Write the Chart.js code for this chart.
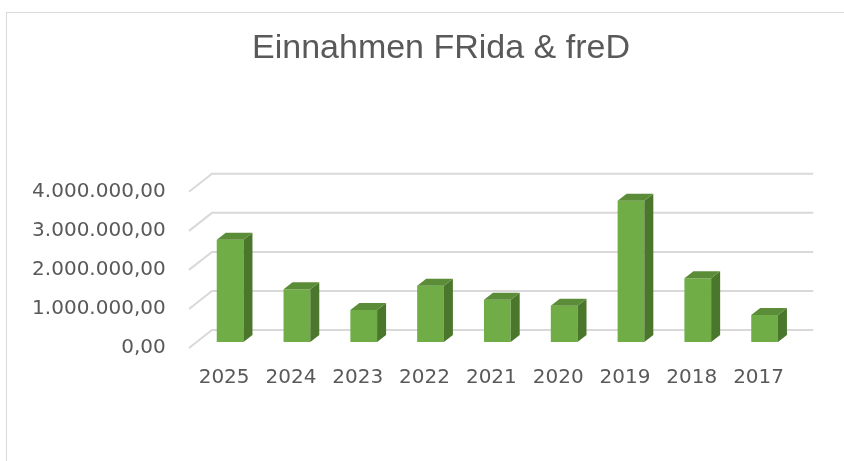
<!DOCTYPE html>
<html>
<head>
<meta charset="utf-8">
<script src="https://cdn.jsdelivr.net/npm/chart.js@4"></script>
<style>
  html, body { margin: 0; padding: 0; background: #ffffff; overflow: hidden; }
  #frame {
    position: absolute; left: 6px; top: 12px; width: 900px; height: 500px;
    border-top: 1px solid #d9d9d9; border-left: 1px solid #d9d9d9;
  }
  #wrap { position: absolute; left: 0; top: 0; width: 844px; height: 461px; overflow: hidden; }
</style>
</head>
<body>
<div id="frame"></div>
<div id="wrap"><canvas id="chart" width="884" height="461"></canvas></div>
<script>
// Data
const years = ["2025", "2024", "2023", "2022", "2021", "2020", "2019", "2018", "2017"];
const einnahmen = [2620000, 1350000, 820000, 1440000, 1080000, 930000, 3620000, 1630000, 690000];
const yMin = 0;
const yMax = 4000000;
const yStep = 1000000;

// German number format: 4.000.000,00
function formatDE(v) {
    const parts = v.toFixed(2).split(".");
    parts[0] = parts[0].replace(/\B(?=(\d{3})+(?!\d))/g, ".");
    return parts[0] + "," + parts[1];
}

// offsets of the 3D look, relative to the plane of the bar fronts
const FRONT = { dx: -7.7, dy: 6 };
const BACK = { dx: 15.3, dy: -12 };
const DEPTH = { dx: 9, dy: -7 };

// slanted floor/wall gridlines drawn behind the bars
const gridPlugin = {
    id: 'grid3d',
    beforeDatasetsDraw(chart) {
        const ctx = chart.ctx;
        const area = chart.chartArea;
        const y = chart.scales.y;
        ctx.save();
        ctx.strokeStyle = '#d9d9d9';
        ctx.lineWidth = 2;
        y.ticks.forEach(t => {
            const py = y.getPixelForValue(t.value);
            ctx.beginPath();
            ctx.moveTo(area.left + FRONT.dx, py + FRONT.dy);
            ctx.lineTo(area.left + BACK.dx, py + BACK.dy);
            ctx.lineTo(area.right + BACK.dx, py + BACK.dy);
            ctx.stroke();
        });
        ctx.restore();
    }
};

// side and top faces of each bar
const barPlugin = {
    id: 'bar3d',
    afterDatasetsDraw(chart) {
        const ctx = chart.ctx;
        const meta = chart.getDatasetMeta(0);
        ctx.save();
        meta.data.forEach(bar => {
            const p = bar.getProps(['x', 'y', 'base', 'width'], true);
            const l = p.x - p.width / 2;
            const r = p.x + p.width / 2;
            // side
            ctx.fillStyle = '#4a772b';
            ctx.beginPath();
            ctx.moveTo(r, p.y);
            ctx.lineTo(r + DEPTH.dx, p.y + DEPTH.dy);
            ctx.lineTo(r + DEPTH.dx, p.base + DEPTH.dy);
            ctx.lineTo(r, p.base);
            ctx.closePath();
            ctx.fill();
            // top
            ctx.fillStyle = '#5b8d38';
            ctx.beginPath();
            ctx.moveTo(l, p.y);
            ctx.lineTo(l + DEPTH.dx, p.y + DEPTH.dy);
            ctx.lineTo(r + DEPTH.dx, p.y + DEPTH.dy);
            ctx.lineTo(r, p.y);
            ctx.closePath();
            ctx.fill();
        });
        ctx.restore();
    }
};

const ctx = document.getElementById("chart").getContext("2d");

new Chart(ctx, {
    type: 'bar',
    data: {
        labels: years,
        datasets: [{
            label: 'Einnahmen',
            data: einnahmen,
            backgroundColor: '#70ad47',
            borderWidth: 0,
            categoryPercentage: 1.0,
            barPercentage: 0.4
        }]
    },
    options: {
        responsive: false,
        animation: false,
        layout: {
            padding: { left: 0, right: 2, top: 0, bottom: 0 }
        },
        plugins: {
            legend: { display: false },
            tooltip: { enabled: false },
            title: {
                display: true,
                text: 'Einnahmen FRida & freD',
                color: '#595959',
                font: { family: 'Liberation Sans', size: 34, weight: 'normal' },
                padding: { top: 28, bottom: 117 }
            }
        },
        scales: {
            x: {
                grid: { display: false, drawTicks: false },
                border: { display: false },
                ticks: {
                    color: '#595959',
                    font: { family: 'DejaVu Sans', size: 20 },
                    padding: 24,
                    labelOffset: -6,
                    maxRotation: 0
                },
                afterFit: s => { s.height = 119; }
            },
            y: {
                min: yMin,
                max: yMax,
                grid: { display: false, drawTicks: false },
                border: { display: false },
                ticks: {
                    stepSize: yStep,
                    color: '#595959',
                    font: { family: 'DejaVu Sans', size: 20 },
                    padding: 31,
                    labelOffset: 6,
                    callback: v => formatDE(v)
                },
                afterFit: s => { s.width = 196.7; }
            },
            // empty spacer on the right, keeps the plot clear of the edge
            y2: {
                position: 'right',
                grid: { display: false, drawTicks: false },
                border: { display: false },
                ticks: { display: false },
                afterFit: s => { s.width = 84; }
            }
        }
    },
    plugins: [gridPlugin, barPlugin]
});
</script>
</body>
</html>
